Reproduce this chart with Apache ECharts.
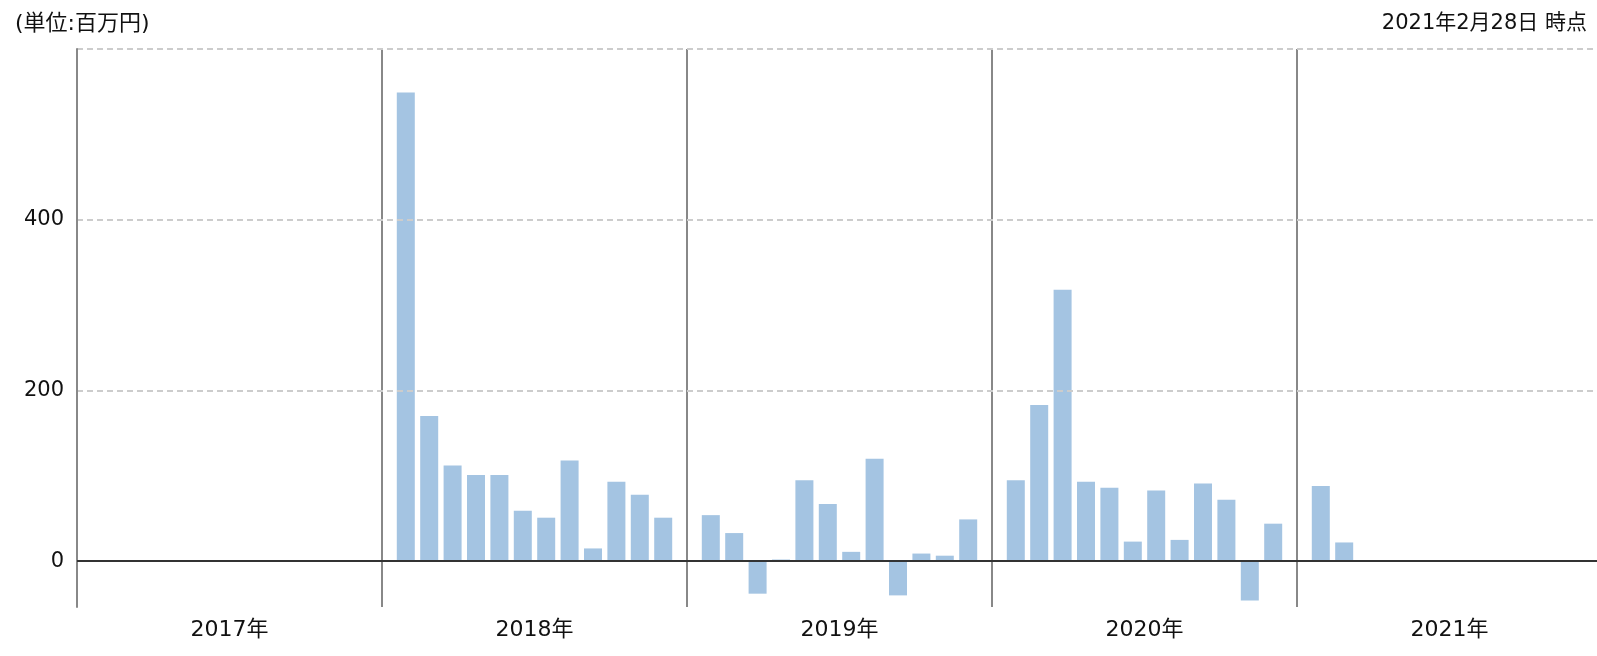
<!DOCTYPE html>
<html>
<head>
<meta charset="utf-8">
<script src="https://cdn.jsdelivr.net/npm/echarts@6/dist/echarts.min.js"></script>
<style>
html,body{margin:0;padding:0;background:#fff;overflow:hidden;}
#chart{width:1602px;height:656px;}
</style>
</head>
<body>
<div id="chart"></div>
<script>
// Categories (years) and monthly values (百万円), Jan..Dec
const years = ['2017年', '2018年', '2019年', '2020年', '2021年'];
const months = ['1月','2月','3月','4月','5月','6月','7月','8月','9月','10月','11月','12月'];
const v2017 = [];
const v2018 = [549, 170, 112, 101, 101, 59, 51, 118, 15, 93, 78, 51];
const v2019 = [54, 33, -38, 2, 95, 67, 11, 120, -40, 9, 6.5, 49];
const v2020 = [95, 183, 318, 93, 86, 23, 83, 25, 91, 72, -46, 44];
const v2021 = [88, 22];
const yTicks = [0, 200, 400, 600];
const yLabels = [0, 200, 400];
const unitText = '(単位:百万円)';
const asOfText = '2021年2月28日 時点';

const byYear = [v2017, v2018, v2019, v2020, v2021];
const FONT = "'DejaVu Sans', 'Noto Sans CJK JP', sans-serif";
const BAR = '#a4c4e2';

const series = months.map((m, i) => {
  const s = {
    name: m,
    type: 'bar',
    barWidth: 18,
    barGap: '30%',
    itemStyle: { color: BAR },
    data: byYear.map(arr => (arr[i] === undefined ? null : arr[i]))
  };
  if (i === 0) {
    s.markLine = {
      silent: true,
      symbol: 'none',
      z: 10,
      label: { show: false },
      lineStyle: { color: '#333', width: 2, type: 'solid' },
      data: [{ yAxis: 0 }]
    };
  }
  return s;
});

const chart = echarts.init(document.getElementById('chart'), null, { renderer: 'canvas' });
chart.setOption({
  animation: false,
  backgroundColor: '#fff',
  textStyle: { fontFamily: FONT },
  title: [
    { text: unitText, left: 10, top: 8,
      textStyle: { fontSize: 22, fontWeight: 'normal', color: '#111', fontFamily: FONT } },
    { text: asOfText, right: 10, top: 8,
      textStyle: { fontSize: 21, fontWeight: 'normal', color: '#111', fontFamily: FONT } }
  ],
  grid: { left: 77, right: 0, top: 49, bottom: 49, containLabel: false },
  xAxis: {
    type: 'category',
    data: years,
    boundaryGap: true,
    axisLine: { show: true, lineStyle: { color: '#888', width: 2 } },
    axisTick: { show: true, length: 38, lineStyle: { color: '#888', width: 2 } },
    splitLine: { show: true, lineStyle: { color: '#888', width: 2 } },
    axisLabel: { fontSize: 22, color: '#111', margin: 12, fontFamily: FONT }
  },
  yAxis: {
    type: 'value',
    min: -53.6,
    max: 600,
    z: 3,
    axisLine: { show: true, lineStyle: { color: '#888', width: 2 } },
    axisTick: { show: false, customValues: yTicks },
    axisLabel: { fontSize: 21, color: '#111', margin: 13, customValues: yLabels, fontFamily: FONT },
    splitLine: { show: true, lineStyle: { color: '#cccccc', width: 2, type: [6, 4] } }
  },
  series: series
});
</script>
</body>
</html>
